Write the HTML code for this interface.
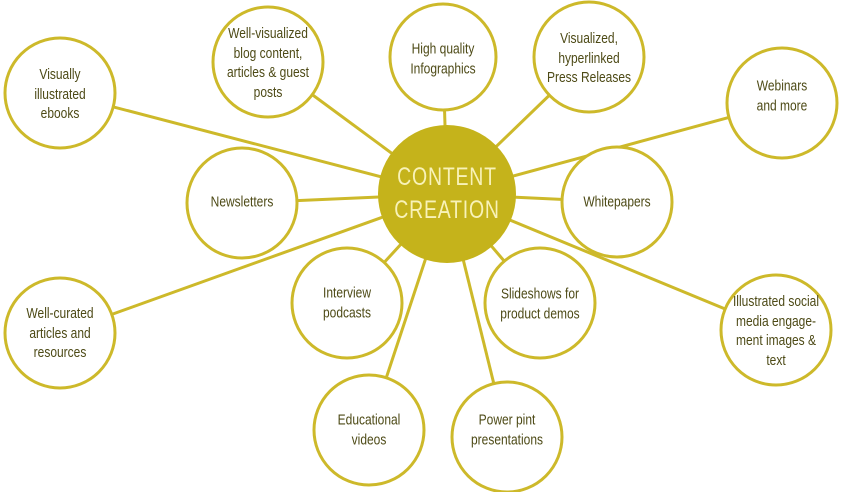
<!DOCTYPE html>
<html><head><meta charset="utf-8"><style>
html,body{margin:0;padding:0;background:#fff;}
#w{position:relative;width:841px;height:492px;overflow:hidden;}
svg{position:absolute;left:0;top:0;}
.t{position:absolute;width:180px;margin-left:-90px;text-align:center;color:#4d4a16;
font-family:"Liberation Sans",sans-serif;font-size:15px;line-height:19.5px;transform:translateY(-50%) scaleX(0.8);}
.c{color:#f8f2b8;font-size:25px;line-height:33px;letter-spacing:1px;transform:translateY(-50%) scaleX(0.78);}
</style></head><body><div id="w">
<svg width="841" height="492" viewBox="0 0 841 492">
<g stroke="#cdb92a" stroke-width="3" fill="none">
<line x1="447" y1="194" x2="60" y2="93"/>
<line x1="447" y1="194" x2="268" y2="62"/>
<line x1="447" y1="194" x2="443" y2="57"/>
<line x1="447" y1="194" x2="589" y2="57"/>
<line x1="447" y1="194" x2="782" y2="103"/>
<line x1="447" y1="194" x2="242" y2="203"/>
<line x1="447" y1="194" x2="617" y2="202"/>
<line x1="447" y1="194" x2="60" y2="333"/>
<line x1="447" y1="194" x2="347" y2="303"/>
<line x1="447" y1="194" x2="540" y2="303"/>
<line x1="447" y1="194" x2="776" y2="330"/>
<line x1="447" y1="194" x2="369" y2="430"/>
<line x1="447" y1="194" x2="507" y2="437"/>
</g>
<g stroke="#cdb92a" stroke-width="3" fill="#fff">
<circle cx="60" cy="93" r="55"/>
<circle cx="268" cy="62" r="55"/>
<circle cx="443" cy="57" r="53"/>
<circle cx="589" cy="57" r="55"/>
<circle cx="782" cy="103" r="55"/>
<circle cx="242" cy="203" r="55"/>
<circle cx="617" cy="202" r="55"/>
<circle cx="60" cy="333" r="55"/>
<circle cx="347" cy="303" r="55"/>
<circle cx="540" cy="303" r="55"/>
<circle cx="776" cy="330" r="55"/>
<circle cx="369" cy="430" r="55"/>
<circle cx="507" cy="437" r="55"/>
</g>
<circle cx="447" cy="194" r="69" fill="#c5b31b"/>
</svg>
<div class="t c" style="left:447px;top:194px">CONTENT<br>CREATION</div>
<div class="t" style="left:60px;top:94px">Visually<br>illustrated<br>ebooks</div>
<div class="t" style="left:268px;top:63px">Well-visualized<br>blog content,<br>articles &amp; guest<br>posts</div>
<div class="t" style="left:443px;top:59px">High quality<br>Infographics</div>
<div class="t" style="left:589px;top:58px">Visualized,<br>hyperlinked<br>Press Releases</div>
<div class="t" style="left:782px;top:96px">Webinars<br>and more</div>
<div class="t" style="left:242px;top:202px">Newsletters</div>
<div class="t" style="left:617px;top:202px">Whitepapers</div>
<div class="t" style="left:60px;top:333px">Well-curated<br>articles and<br>resources</div>
<div class="t" style="left:347px;top:303px">Interview<br>podcasts</div>
<div class="t" style="left:540px;top:304px">Slideshows for<br>product demos</div>
<div class="t" style="left:776px;top:331px">Illustrated social<br>media engage-<br>ment images &amp;<br>text</div>
<div class="t" style="left:369px;top:430px">Educational<br>videos</div>
<div class="t" style="left:507px;top:430px">Power pint<br>presentations</div>
</div></body></html>
